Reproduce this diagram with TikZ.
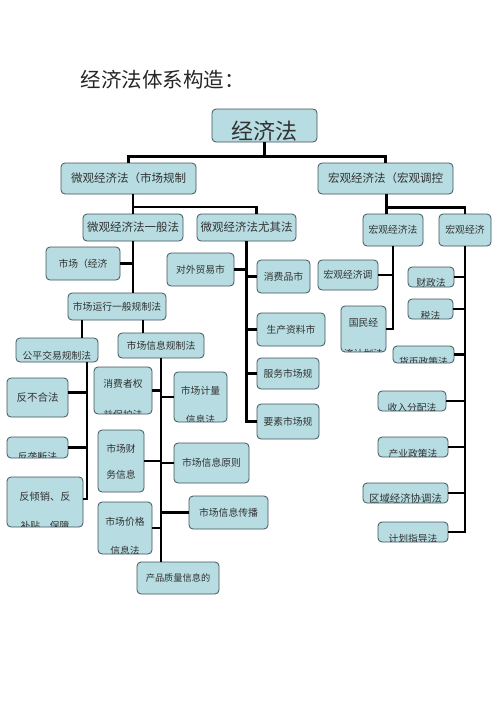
\documentclass[tikz,border=0pt]{standalone}
\usepackage{fontspec}
\newfontfamily\cjk{Noto Sans CJK SC}
\definecolor{boxfill}{RGB}{183,221,226}
\definecolor{boxline}{RGB}{62,84,92}
\definecolor{txtgray}{RGB}{50,50,50}
\tikzset{
  law/.style={draw=boxline, fill=boxfill, rounded corners=4pt, inner sep=0pt, line width=0.8pt,
              font=\cjk\fontsize{9.8}{12}\selectfont, text=txtgray},
  lab/.style={inner sep=0pt, font=\cjk\fontsize{9.8}{12}\selectfont, text=txtgray},
  big/.style={font=\cjk\fontsize{11.5}{14}\selectfont},
  conn/.style={line width=2.2pt, black},
}
% one text line of a box, cut off by the box edge
\newcommand{\lawline}[5][]{%
  \begin{scope}
    \clip ([shift={(0.6pt,0.6pt)}]#2.south west) rectangle ([shift={(-0.6pt,-0.6pt)}]#2.north east);
    \node[lab,#1] (#3) at ([yshift=#4]#2.center) {#5};
  \end{scope}}

\begin{document}
\begin{tikzpicture}[x=1pt, y=-1pt]
  \useasboundingbox (0,0) rectangle (500,707);
  \node[anchor=west, font=\cjk\fontsize{20.5}{24}\selectfont, text=black!85] (title) at (77,80) {经济法体系构造：};

  % top levels
  \node[law, minimum width=105pt, minimum height=33pt] (root) at (264.5,125.5) {};
  \lawline[font=\cjk\fontsize{22}{26}\selectfont]{root}{root-t}{-5.5pt}{经济法}
  \node[law, big, minimum width=135pt, minimum height=31pt] (micro) at (128.5,178.5) {微观经济法（市场规制};
  \node[law, big, minimum width=135pt, minimum height=31pt] (macro) at (385.5,178.5) {宏观经济法（宏观调控};
  \node[law, big, minimum width=100pt, minimum height=27pt] (gen) at (133,227.5) {微观经济法一般法};
  \node[law, big, minimum width=99pt, minimum height=27pt] (spec) at (246.5,227.5) {微观经济法尤其法};
  \node[law, minimum width=60pt, minimum height=32pt] (mgen) at (393,230) {宏观经济法};
  \node[law, minimum width=52pt, minimum height=32pt] (mspec) at (465,230) {宏观经济};

  % micro, general part
  \node[law, minimum width=74pt, minimum height=33pt] (mkt) at (83,263.5) {市场（经济};
  \node[law, minimum width=98pt, minimum height=27pt] (run) at (117,306.5) {市场运行一般规制法};
  \node[law, minimum width=82pt, minimum height=24pt] (fair) at (57,350) {};
  \lawline{fair}{fair-t}{-5.5pt}{公平交易规制法}
  \node[law, minimum width=86pt, minimum height=25pt] (info) at (161,345.5) {市场信息规制法};
  \node[law, font=\cjk\fontsize{10.5}{12}\selectfont, minimum width=61pt, minimum height=39pt] (unfair) at (37.5,397.5) {反不合法};
  \node[law, minimum width=61pt, minimum height=21pt] (monopoly) at (37.5,447.5) {};
  \lawline{monopoly}{monopoly-t}{-9pt}{反垄断法}
  \node[law, minimum width=76pt, minimum height=50pt] (dumping) at (45,502) {};
  \lawline[font=\cjk\fontsize{10.2}{12}\selectfont]{dumping}{dumping-a}{5pt}{反倾销、反}
  \lawline{dumping}{dumping-b}{-24pt}{补贴、保障}
  \node[law, minimum width=58pt, minimum height=47pt] (cons) at (123,390.5) {};
  \lawline{cons}{cons-a}{6.5pt}{消费者权}
  \lawline{cons}{cons-b}{-24.5pt}{益保护法}
  \node[law, minimum width=53pt, minimum height=50pt] (meas) at (200.5,397) {};
  \lawline{meas}{meas-a}{6pt}{市场计量}
  \lawline{meas}{meas-b}{-23pt}{信息法}
  \node[law, minimum width=46pt, minimum height=62pt] (fin) at (121,461) {};
  \lawline{fin}{fin-a}{12pt}{市场财}
  \lawline{fin}{fin-b}{-14pt}{务信息}
  \node[law, minimum width=75pt, minimum height=40pt] (prin) at (211.5,463) {市场信息原则};
  \node[law, minimum width=54pt, minimum height=52pt] (price) at (125,528) {};
  \lawline{price}{price-a}{6pt}{市场价格}
  \lawline{price}{price-b}{-23pt}{信息法}
  \node[law, minimum width=79pt, minimum height=33pt] (spread) at (228.5,512.5) {市场信息传播};
  \node[law, font=\cjk\fontsize{9.2}{12}\selectfont, minimum width=82pt, minimum height=32pt] (quality) at (178,578) {产品质量信息的};

  % micro, special part
  \node[law, minimum width=67pt, minimum height=33pt] (foreign) at (200.5,269.5) {对外贸易市};
  \node[law, minimum width=53pt, minimum height=33pt] (cgoods) at (283.5,276.5) {消费品市};
  \node[law, minimum width=68pt, minimum height=33pt] (prod) at (291,329.5) {生产资料市};
  \node[law, minimum width=62pt, minimum height=31pt] (serv) at (288,373.5) {服务市场规};
  \node[law, minimum width=62pt, minimum height=35pt] (fact) at (288,421.5) {要素市场规};

  % macro
  \node[law, minimum width=60pt, minimum height=30pt] (mtiao) at (348,275) {宏观经济调};
  \node[law, minimum width=45pt, minimum height=46pt] (guomin) at (363.5,329) {};
  \lawline{guomin}{guomin-a}{6pt}{国民经}
  \lawline{guomin}{guomin-b}{-24.5pt}{济计划法}
  \node[law, minimum width=46pt, minimum height=20pt] (fiscal) at (431,277) {};
  \lawline{fiscal}{fiscal-t}{-6pt}{财政法}
  \node[law, minimum width=45pt, minimum height=20pt] (tax) at (430.5,309) {};
  \lawline{tax}{tax-t}{-7pt}{税法}
  \node[law, minimum width=61pt, minimum height=17pt] (money) at (423.5,354.5) {};
  \lawline{money}{money-t}{-7pt}{货币政策法}
  \node[law, minimum width=68pt, minimum height=20pt] (income) at (412,401) {};
  \lawline{income}{income-t}{-7pt}{收入分配法}
  \node[law, minimum width=70pt, minimum height=20pt] (industry) at (413,447) {};
  \lawline{industry}{industry-t}{-7pt}{产业政策法}
  \node[law, minimum width=85pt, minimum height=20pt] (region) at (405.5,493) {};
  \lawline[font=\cjk\fontsize{10.4}{12}\selectfont]{region}{region-t}{-6pt}{区域经济协调法}
  \node[law, minimum width=70pt, minimum height=20pt] (plan) at (413,532) {};
  \lawline{plan}{plan-t}{-7pt}{计划指导法}

  % connectors
  \draw[conn] (root.south) -- ++(0,14) -| (micro.north);
  \draw[conn] (root.south) ++(0,14) -| (macro.north);
  \draw[conn] (micro.south -| gen.north) -- (gen.north);
  \draw[conn] (gen.north) ++(0,-7) -| ([xshift=10pt]spec.north);
  \draw[conn] ([xshift=1pt]macro.south) -- ([xshift=1pt]macro.south |- mgen.north);
  \draw[conn] ([xshift=1pt]macro.south) ++(0,13) -| (mspec.north);

  \draw[conn] (gen.south) -- (gen.south |- run.north);
  \draw[conn] (mkt.east) -- (mkt.east -| gen.south);
  \draw[conn] ([xshift=-35pt]run.south) -- ([xshift=-35pt]run.south |- fair.north);
  \draw[conn] ([xshift=26pt]run.south) -- ([xshift=26pt]run.south |- info.north);

  \coordinate (fairbus) at ([xshift=30pt]fair.south);
  \draw[conn] (fairbus) |- ([yshift=3pt]dumping.east);
  \draw[conn] ([yshift=5pt]unfair.east) -- ([yshift=5pt]unfair.east -| fairbus);
  \draw[conn] (monopoly.east) -- (monopoly.east -| fairbus);

  \draw[conn] (info.south) -- (info.south |- quality.north);
  \foreach \n in {cons,fin,price}
    \draw[conn] (\n.east) -- (\n.east -| info.south);
  \foreach \n in {meas,prin,spread}
    \draw[conn] (\n.west) -- (\n.west -| info.south);

  \draw[conn] (spec.south) |- (fact.west);
  \draw[conn] (foreign.east) -- (foreign.east -| spec.south);
  \foreach \n in {cgoods,prod,serv}
    \draw[conn] (\n.west) -- (\n.west -| spec.south);

  \draw[conn] (mgen.south) |- (guomin.east);
  \draw[conn] (mtiao.east) -- (mtiao.east -| mgen.south);
  \draw[conn] (mspec.south) |- (plan.east);
  \foreach \n in {fiscal,tax,money,income,industry,region}
    \draw[conn] (\n.east) -- (\n.east -| mspec.south);
\end{tikzpicture}
\end{document}
